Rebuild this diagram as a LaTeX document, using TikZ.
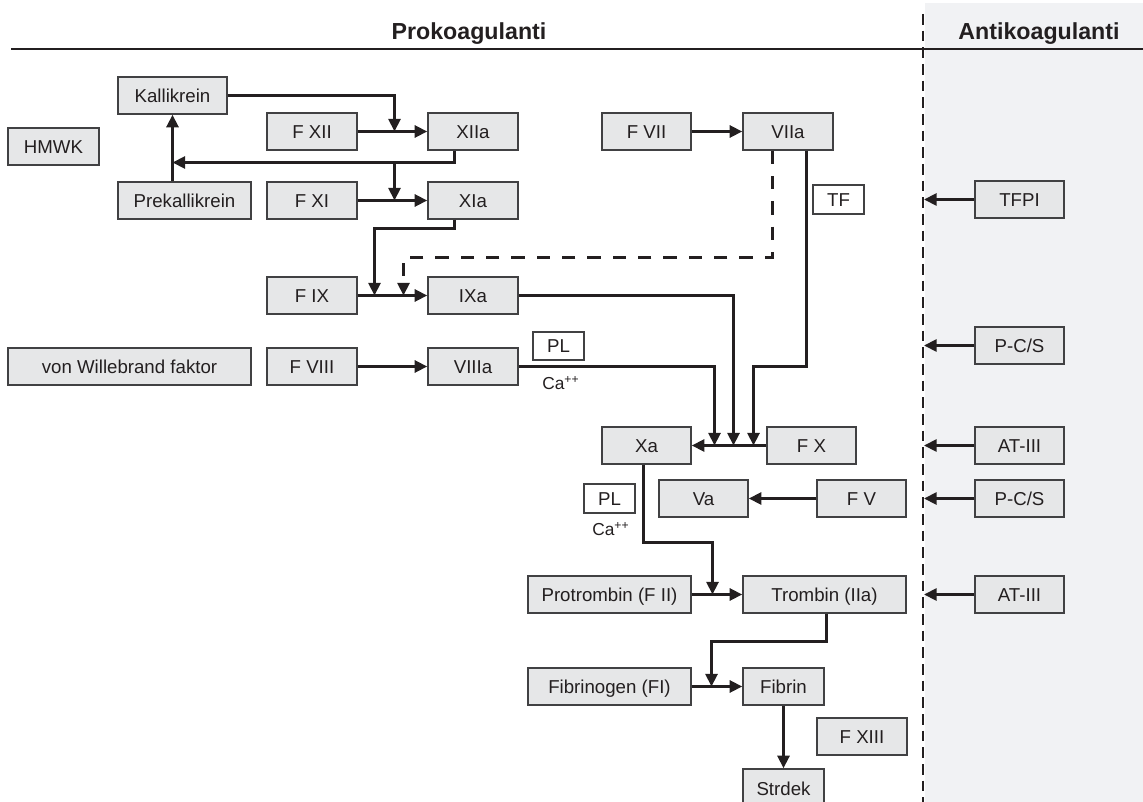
\documentclass[tikz,border=0pt]{standalone}
\usepackage{fontspec}
\setmainfont{Liberation Sans}
\usetikzlibrary{arrows.meta,fit}
\definecolor{ink}{HTML}{231F20}
\definecolor{boxfill}{HTML}{E6E7E8}
\definecolor{boxline}{HTML}{414143}
\definecolor{panel}{HTML}{F1F2F4}
\begin{document}
\begin{tikzpicture}[x=0.75pt,y=-0.75pt,
  box/.style={draw=boxline,fill=boxfill,line width=1.1pt,inner sep=0pt},
  wbox/.style={box,fill=white},
  lbl/.style={font=\fontsize{14}{16}\selectfont,text=ink,text height=10pt,text depth=0pt,inner sep=0pt},
  conn/.style={draw=ink,line width=2.25pt},
  arr/.style={conn,-{Triangle[length=9.5pt,width=9pt]}},
  dashconn/.style={dash pattern=on 10pt off 9pt},
  hdr/.style={font=\bfseries\fontsize{17.4}{20}\selectfont,text=ink},
  calabel/.style={anchor=base west,font=\fontsize{13}{15}\selectfont,text=ink,inner sep=0pt}]
\useasboundingbox (0,0) rectangle (1143,802);
% right panel
\fill[panel] (925,3) rectangle (1143,802);
\draw[ink,line width=1.5pt] (11,49) -- (1143,49);
\draw[ink,line width=1.5pt,dash pattern=on 8pt off 4.5pt] (923,14) -- (923,802);
\node[hdr,anchor=base] (pro) at (469,40) {Prokoagulanti};
\node[hdr,anchor=base] (anti) at (1039,40) {Antikoagulanti};
% boxes
\node[box,fit={(118,77)(227,114)},label={[lbl]center:Kallikrein}] (kal) {};
\node[box,fit={(8,128)(99,165)},label={[lbl]center:HMWK}] (hmwk) {};
\node[box,fit={(118,182)(251,219)},label={[lbl]center:Prekallikrein}] (prek) {};
\node[box,fit={(267,113)(357,150)},label={[lbl]center:F XII}] (fxii) {};
\node[box,fit={(428,113)(518,150)},label={[lbl]center:XIIa}] (xiia) {};
\node[box,fit={(267,182)(357,219)},label={[lbl]center:F XI}] (fxi) {};
\node[box,fit={(428,182)(518,219)},label={[lbl]center:XIa}] (xia) {};
\node[box,fit={(602,113)(691,150)},label={[lbl]center:F VII}] (fvii) {};
\node[box,fit={(743,113)(833,150)},label={[lbl]center:VIIa}] (viia) {};
\node[wbox,fit={(813,185)(864,214)},label={[lbl]center:TF}] (tf) {};
\node[box,fit={(267,277)(357,314)},label={[lbl]center:F IX}] (fix) {};
\node[box,fit={(428,277)(518,314)},label={[lbl]center:IXa}] (ixa) {};
\node[box,fit={(8,348)(251,385)},label={[lbl]center:von Willebrand faktor}] (vwf) {};
\node[box,fit={(267,348)(357,385)},label={[lbl]center:F VIII}] (fviii) {};
\node[box,fit={(428,348)(518,385)},label={[lbl]center:VIIIa}] (viiia) {};
\node[wbox,fit={(533,332)(584,360)},label={[lbl]center:PL}] (pl1) {};
\node[calabel] (ca1) at (542,389) {Ca\textsuperscript{++}};
\node[box,fit={(602,427)(691,464)},label={[lbl]center:Xa}] (xa) {};
\node[box,fit={(767,427)(856,464)},label={[lbl]center:F X}] (fx) {};
\node[wbox,fit={(584,484)(635,513)},label={[lbl]center:PL}] (pl2) {};
\node[calabel] (ca2) at (592,535) {Ca\textsuperscript{++}};
\node[box,fit={(659,480)(748,517)},label={[lbl]center:Va}] (va) {};
\node[box,fit={(817,480)(906,517)},label={[lbl]center:F V}] (fv) {};
\node[box,fit={(528,576)(691,613)},label={[lbl]center:Protrombin (F II)}] (prot) {};
\node[box,fit={(743,576)(906,613)},label={[lbl]center:Trombin (IIa)}] (trom) {};
\node[box,fit={(528,668)(691,705)},label={[lbl]center:Fibrinogen (FI)}] (fibg) {};
\node[box,fit={(743,668)(824,705)},label={[lbl]center:Fibrin}] (fibr) {};
\node[box,fit={(817,718)(907,755)},label={[lbl]center:F XIII}] (fxiii) {};
\node[box,fit={(743,769)(824,808)},label={[lbl]center:Strdek}] (strd) {};
% anticoagulants
\node[box,fit={(975,181)(1064,218)},label={[lbl]center:TFPI}] (tfpi) {};
\node[box,fit={(975,327)(1064,364)},label={[lbl]center:P-C/S}] (pcs1) {};
\node[box,fit={(975,427)(1064,464)},label={[lbl]center:AT-III}] (at1) {};
\node[box,fit={(975,480)(1064,517)},label={[lbl]center:P-C/S}] (pcs2) {};
\node[box,fit={(975,576)(1064,613)},label={[lbl]center:AT-III}] (at2) {};
% junction coordinates
\coordinate (j12) at (394.5,131.5);
\coordinate (k1) at (454.5,162.5);
\coordinate (j11) at (394.5,200.5);
\coordinate (k2) at (454.5,228.5);
\coordinate (j9a) at (374.5,295.5);
\coordinate (d1) at (772.5,257.5);
\coordinate (j9b) at (403.5,295.5);
\coordinate (m1) at (733.5,445.5);
\coordinate (m2) at (753.5,445.5);
\coordinate (m3) at (714.5,445.5);
\coordinate (v1) at (806.5,366.5);
\coordinate (t1) at (643.5,542.5);
\coordinate (j2) at (712.5,594.5);
\coordinate (t2) at (826.5,641.5);
\coordinate (j1) at (711.5,686.5);
\coordinate (dl) at (924,0);
% connectors
\draw[arr] (kal.east) -| (j12);
\draw[arr] (fxii) -- (xiia);
\draw[arr] (xiia.south -| k1) -- (k1) -- (kal.south |- k1);
\draw[arr] (j12 |- k1) -- (j11);
\draw[arr] (kal.south |- prek.north) -- (kal.south);
\draw[arr] (fxi) -- (xia);
\draw[arr] (xia.south -| k2) -- (k2) -| (j9a);
\draw[arr,dashconn] (viia.south -| d1) -- (d1) -| (j9b);
\draw[arr] (fix) -- (ixa);
\draw[arr] (fvii) -- (viia);
\draw[arr] (ixa.east) -| (m1);
\draw[arr] (viia.south -| v1) -- (v1) -| (m2);
\draw[arr] (fviii) -- (viiia);
\draw[arr] (viiia.east) -| (m3);
\draw[arr] (fx) -- (xa);
\draw[arr] (fv) -- (va);
\draw[arr] (xa.south -| t1) -- (t1) -| (j2);
\draw[arr] (prot) -- (trom);
\draw[arr] (trom.south -| t2) -- (t2) -| (j1);
\draw[arr] (fibg) -- (fibr);
\draw[arr] (fibr) -- (strd);
\draw[arr] (tfpi.west) -- (tfpi.west -| dl);
\draw[arr] (pcs1.west) -- (pcs1.west -| dl);
\draw[arr] (at1.west) -- (at1.west -| dl);
\draw[arr] (pcs2.west) -- (pcs2.west -| dl);
\draw[arr] (at2.west) -- (at2.west -| dl);
\end{tikzpicture}
\end{document}
